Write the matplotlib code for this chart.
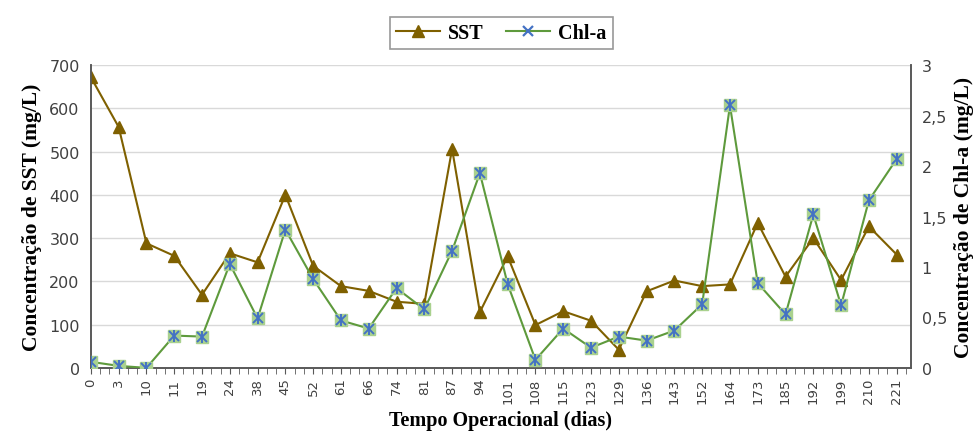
import matplotlib
matplotlib.use("Agg")
import matplotlib.pyplot as plt
import numpy as np

# dias de operacao (eixo categorico)
dias = ["0", "3", "10", "11", "19", "24", "38", "45", "52", "61", "66", "74", "81", "87", "94",
        "101", "108", "115", "123", "129", "136", "143", "152", "164", "173", "185", "192", "199", "210", "221"]
sst = [672, 557, 288, 259, 169, 265, 244, 400, 236, 189, 178, 153, 148, 506, 129,
       258, 99, 131, 109, 42, 177, 202, 189, 193, 335, 211, 300, 203, 327, 262]
chla = [0.06, 0.02, 0.0, 0.32, 0.31, 1.03, 0.49, 1.37, 0.88, 0.47, 0.39, 0.79, 0.58, 1.16, 1.93,
        0.83, 0.08, 0.39, 0.20, 0.31, 0.27, 0.37, 0.63, 2.60, 0.84, 0.53, 1.52, 0.62, 1.66, 2.07]

x = np.arange(len(dias))
tick_col = "#404040"
serif = "Liberation Serif"
green = "#5e9a3c"
blue = "#4472c4"

fig = plt.figure(figsize=(9.77, 4.35), dpi=100)
ax = fig.add_axes([0.093, 0.152, 0.839, 0.696])
ax2 = ax.twinx()

ax.set_ylim(0, 700)
ax.set_yticks(range(0, 701, 100))
ax.yaxis.grid(True, color="#d9d9d9", linewidth=1)
ax.set_axisbelow(True)
ax2.set_ylim(0, 3)
ax2.set_yticks([0, 0.5, 1, 1.5, 2, 2.5, 3])
ax2.set_yticklabels(["0", "0,5", "1", "1,5", "2", "2,5", "3"])

ax.set_xlim(0, 29.5)
ax.set_xticks(x)
ax.set_xticklabels(dias, rotation=90, fontsize=9.5, color=tick_col)
ax.set_xticks(np.arange(0, 29.5, 1 / 3), minor=True)
ax.tick_params(axis="x", which="both", direction="out", length=4, color="#595959", pad=3)
ax.tick_params(axis="y", length=0, labelsize=11.5, labelcolor=tick_col, pad=8)
ax2.tick_params(axis="y", length=0, labelsize=11.5, labelcolor=tick_col, pad=8)

for a in (ax, ax2):
    for s in a.spines.values():
        s.set_color("#595959")
        s.set_linewidth(1.2)
    a.spines["top"].set_visible(False)

l1, = ax.plot(x, sst, color="#7f6000", linewidth=1.5, marker="^", markersize=8,
              markerfacecolor="#7f6000", markeredgecolor="#7f6000", label="SST", zorder=3)
ax2.plot(x, chla, color=green, linewidth=1.5, marker="s", markersize=8.5,
         markerfacecolor="#a9d18e", markeredgecolor="#a9d18e", zorder=3)
# asterisco azul: x + barra vertical
ax2.plot(x, chla, linestyle="none", marker="x", markersize=7,
         markeredgecolor=blue, markeredgewidth=1.4, zorder=4)
ax2.plot(x, chla, linestyle="none", marker="|", markersize=8,
         markeredgecolor=blue, markeredgewidth=1.4, zorder=4)
l2, = ax2.plot([], [], color=green, linewidth=1.5, marker="x", markersize=7,
               markeredgecolor=blue, markeredgewidth=1.6, label="Chl-a")

ax.set_ylabel("Concentração de SST (mg/L)", family=serif, fontweight="bold", fontsize=15.5, labelpad=5)
ax2.set_ylabel("Concentração de Chl-a (mg/L)", family=serif, fontweight="bold", fontsize=15.5, labelpad=5)
ax.set_xlabel("Tempo Operacional (dias)", family=serif, fontweight="bold", fontsize=14.5, labelpad=5)

leg = fig.legend(handles=[l1, l2], loc="upper center", bbox_to_anchor=(0.513, 0.982), ncol=2,
                 prop={"family": serif, "weight": "bold", "size": 14.5}, frameon=True,
                 fancybox=False, edgecolor="#7f7f7f", handlelength=2.2, columnspacing=1.1,
                 handletextpad=0.4, borderpad=0.3)
leg.get_frame().set_linewidth(1.2)

fig.savefig("out.png", dpi=100)
